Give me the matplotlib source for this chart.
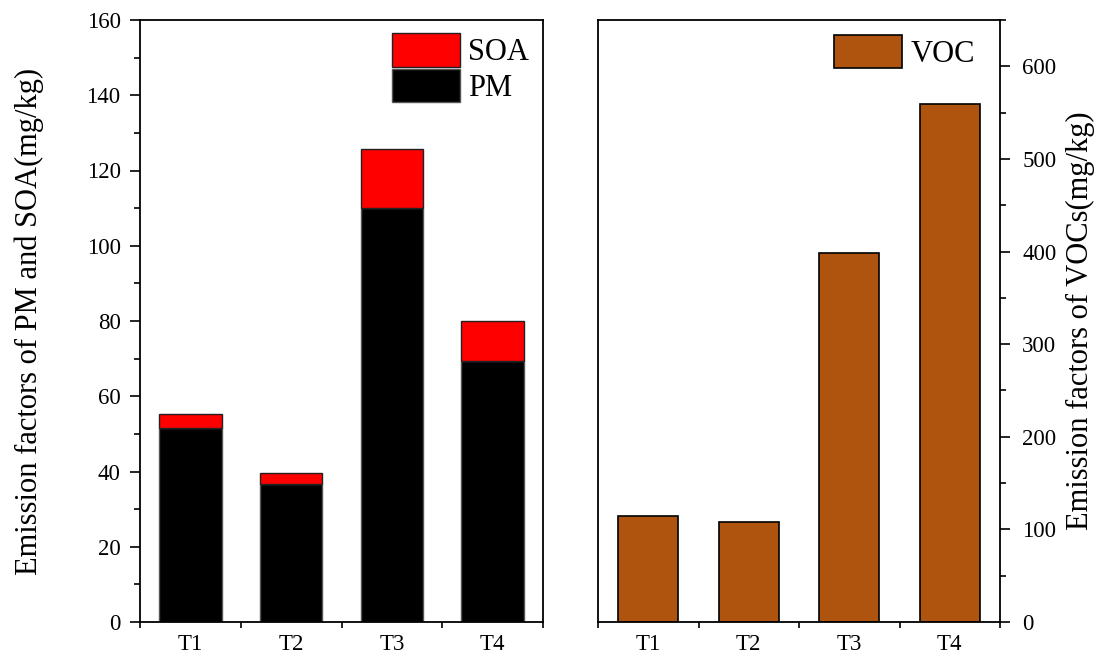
import matplotlib.pyplot as plt
from matplotlib.ticker import FixedLocator, NullFormatter, MultipleLocator

plt.rcParams['font.family'] = ['Liberation Serif', 'DejaVu Serif']

cats = ['T1', 'T2', 'T3', 'T4']
pm = [51.6, 36.7, 110.0, 69.4]
soa = [3.6, 2.8, 15.8, 10.5]
voc = [114, 108, 398, 559]

x = [1, 2, 3, 4]
fig = plt.figure(figsize=(11.11, 6.62), dpi=100)
ax1 = fig.add_axes([140 / 1111, 40 / 662, 403 / 1111, 602 / 662])
ax2 = fig.add_axes([598 / 1111, 40 / 662, 402 / 1111, 602 / 662])

ax1.bar(x, pm, width=0.62, color='black', edgecolor='#555555', linewidth=1, label='PM')
ax1.bar(x, soa, bottom=pm, width=0.62, color='#FF0000', edgecolor='#222222', linewidth=1, label='SOA')
ax1.set_ylim(0, 160)
ax1.set_yticks(range(0, 161, 20))
ax1.yaxis.set_minor_locator(MultipleLocator(10))
ax1.set_ylabel('Emission factors of PM and SOA(mg/kg)', fontsize=22)
ax1.yaxis.set_label_coords(-0.237, 0.5)
h, l = ax1.get_legend_handles_labels()
ax1.legend(h[::-1], l[::-1], loc='upper right', frameon=False, fontsize=22,
           handlelength=2.2, handleheight=1.3, handletextpad=0.28, labelspacing=0.05,
           borderaxespad=0.0, borderpad=0.3, bbox_to_anchor=(0.988, 0.993))

ax2.bar(x, voc, width=0.6, color='#AF540E', edgecolor='black', linewidth=1.2, label='VOC')
ax2.set_ylim(0, 650)
ax2.set_yticks(range(0, 601, 100))
ax2.yaxis.set_minor_locator(MultipleLocator(50))
ax2.yaxis.tick_right()
ax2.yaxis.set_label_position('right')
ax2.set_ylabel('Emission factors of VOCs(mg/kg)', fontsize=22)
ax2.yaxis.set_label_coords(1.165, 0.5)
ax2.legend(loc='upper right', frameon=False, fontsize=22, handlelength=2.2,
           handleheight=1.3, handletextpad=0.28, borderaxespad=0.0, borderpad=0.3,
           bbox_to_anchor=(0.96, 0.99))

for ax in (ax1, ax2):
    ax.set_xlim(0.5, 4.5)
    ax.xaxis.set_major_locator(FixedLocator([0.5, 1.5, 2.5, 3.5, 4.5]))
    ax.xaxis.set_major_formatter(NullFormatter())
    ax.xaxis.set_minor_locator(FixedLocator(x))
    ax.set_xticklabels(cats, minor=True)
    ax.tick_params(axis='x', which='minor', length=0, labelsize=16.5, pad=9)
    ax.tick_params(axis='x', which='major', direction='out', length=4, width=1.2)
    ax.tick_params(axis='y', which='major', direction='out', length=7, width=1.2,
                   labelsize=16.5, pad=7)
    ax.tick_params(axis='y', which='minor', direction='out', length=4, width=1.2)
    for s in ax.spines.values():
        s.set_linewidth(1.3)
ax2.tick_params(axis='y', which='major', pad=9)

plt.savefig('out.png', dpi=100)
